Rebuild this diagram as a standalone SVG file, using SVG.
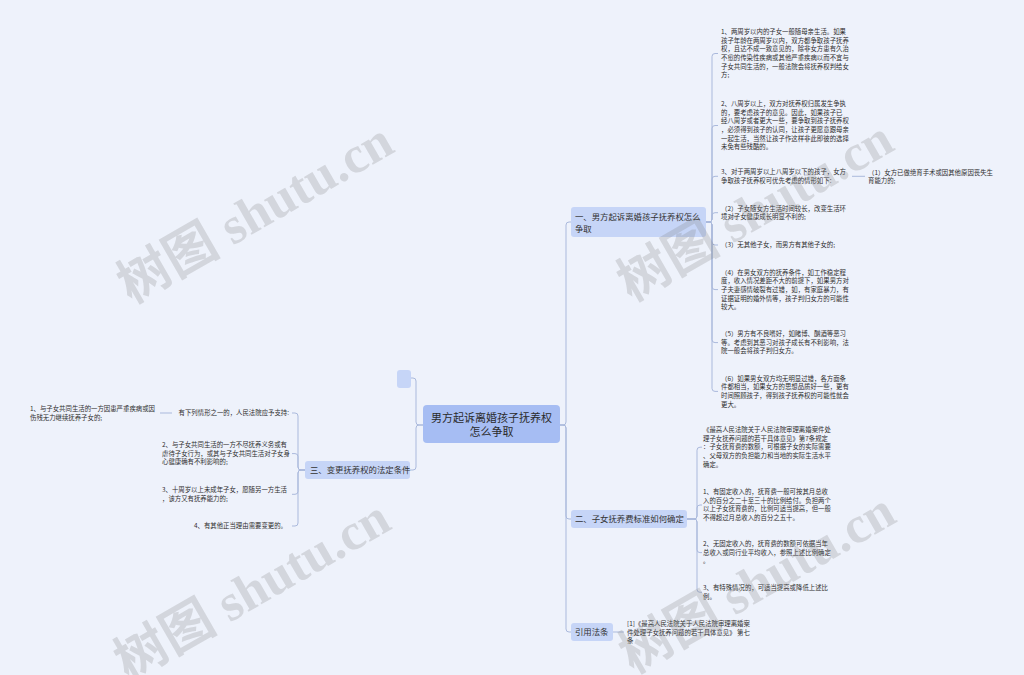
<svg xmlns="http://www.w3.org/2000/svg" width="1024" height="675" viewBox="0 0 1024 675">
<style>
.bg{fill:#eef2fb}
.root{fill:#a6bdf3}
.l1{fill:#c6d5f7}
.rt{font-family:"Noto Sans CJK SC","Liberation Sans",sans-serif;font-size:11px;fill:#2b2b2b}
.t1{font-family:"Noto Sans CJK SC","Liberation Sans",sans-serif;font-size:8.4px;fill:#333}
.lf{font-family:"Noto Sans CJK SC","Liberation Sans",sans-serif;font-size:6.4px;fill:#2e2e2e}
.cn{fill:none;stroke:#aab9dc;stroke-width:1}
.wm{font-family:"Liberation Serif","Noto Sans CJK SC",serif;font-size:52px;font-weight:bold;fill:#7f7f7f;fill-opacity:0.24}
</style>
<rect class="bg" x="0" y="0" width="1024" height="675"/>

<g id="connectors">
<path class="cn" d="M423,425 H419 Q416,425 416,422 V381 Q416,378 413,378 H410"/>
<path class="cn" d="M423,425 H419 Q416,425 416,428 V467 Q416,470 413,470 H410"/>
<path class="cn" d="M560,425 H563 Q566,425 566,422 V225 Q566,222 569,222 H571"/>
<path class="cn" d="M560,425 H563 Q566,425 566,428 V516 Q566,519 569,519 H571"/>
<path class="cn" d="M560,425 H563 Q566,425 566,428 V629 Q566,632 569,632 H571"/>
<path class="cn" d="M706,222 H709 Q712,222 712,219 V56.5 Q712,53.5 715,53.5 H718"/>
<path class="cn" d="M706,222 H709 Q712,222 712,219 V128.5 Q712,125.5 715,125.5 H718"/>
<path class="cn" d="M706,222 H709 Q712,222 712,219 V179.3 Q712,176.3 715,176.3 H718"/>
<path class="cn" d="M706,222 H709 Q712,222 712,219 V215.7 Q712,212.7 715,212.7 H718"/>
<path class="cn" d="M706,222 H709 Q712,222 712,225 V242 Q712,245 715,245 H718"/>
<path class="cn" d="M706,222 H709 Q712,222 712,225 V286.6 Q712,289.6 715,289.6 H718"/>
<path class="cn" d="M706,222 H709 Q712,222 712,225 V339.6 Q712,342.6 715,342.6 H718"/>
<path class="cn" d="M706,222 H709 Q712,222 712,225 V388.4 Q712,391.4 715,391.4 H718"/>
<path class="cn" d="M852,176.3 H865"/>
<path class="cn" d="M687,519 H694 Q697,519 697,516 V450.2 Q697,447.2 700,447.2 H702"/>
<path class="cn" d="M687,519 H694 Q697,519 697,516 V508 Q697,505 700,505 H702"/>
<path class="cn" d="M687,519 H694 Q697,519 697,522 V549.6 Q697,552.6 700,552.6 H702"/>
<path class="cn" d="M687,519 H694 Q697,519 697,522 V589.3 Q697,592.3 700,592.3 H702"/>
<path class="cn" d="M613,632 H624"/>
<path class="cn" d="M305,470 H301 Q298,470 298,467 V416 Q298,413 295,413 H292"/>
<path class="cn" d="M305,470 H301 Q298,470 298,467 V456.6 Q298,453.6 295,453.6 H292"/>
<path class="cn" d="M305,470 H301 Q298,470 298,473 V491.3 Q298,494.3 295,494.3 H292"/>
<path class="cn" d="M305,470 H301 Q298,470 298,473 V523 Q298,526 295,526 H292"/>
<path class="cn" d="M160,413 H172"/>
</g>

<g id="root">
<rect class="root" x="423" y="405" width="137" height="38" rx="4"/>
<text class="rt" x="491.5" y="422" text-anchor="middle">男方起诉离婚孩子抚养权</text>
<text class="rt" x="491.5" y="436" text-anchor="middle">怎么争取</text>
</g>

<g id="empty-node">
<rect class="l1" x="397" y="370" width="14" height="18" rx="3"/>
</g>

<g id="n1">
<rect class="l1" x="571" y="207" width="135" height="30" rx="3"/>
<text class="t1" x="575" y="220">一、男方起诉离婚孩子抚养权怎么</text>
<text class="t1" x="575" y="232">争取</text>
</g>

<g id="n2">
<rect class="l1" x="571" y="510" width="116" height="18" rx="3"/>
<text class="t1" x="575" y="522">二、子女抚养费标准如何确定</text>
</g>

<g id="n3">
<rect class="l1" x="305" y="461" width="105" height="18" rx="3"/>
<text class="t1" x="310" y="473">三、变更抚养权的法定条件</text>
</g>

<g id="n4">
<rect class="l1" x="571" y="623" width="42" height="18" rx="3"/>
<text class="t1" x="575" y="635">引用法条</text>
</g>

<g id="n1-leaves" class="lf">
<g id="n1-a">
<text x="721" y="34.2"> 1、两周岁以内的子女一般随母亲生活。如果</text>
<text x="721" y="42.8">孩子年龄在两周岁以内，双方都争取孩子抚养</text>
<text x="721" y="51.4">权，且达不成一致意见的，除非女方患有久治</text>
<text x="721" y="60">不愈的传染性疾病或其他严重疾病以而不宜与</text>
<text x="721" y="68.6">子女共同生活的，一般法院会将抚养权判给女</text>
<text x="721" y="77.2">方;</text>
</g>
<g id="n1-b">
<text x="721" y="106.2"> 2、八周岁以上，双方对抚养权归属发生争执</text>
<text x="721" y="114.8">的，要考虑孩子的意见。因此，如果孩子已</text>
<text x="721" y="123.4">经八周岁或者更大一些，要争取到孩子抚养权</text>
<text x="721" y="132">，必须得到孩子的认同，让孩子更愿意跟母亲</text>
<text x="721" y="140.6">一起生活，当然让孩子作这样非此即彼的选择</text>
<text x="721" y="149.2">未免有些残酷的。</text>
</g>
<g id="n1-c">
<text x="721" y="174.2"> 3、对于两周岁以上八周岁以下的孩子，女方</text>
<text x="721" y="182.8">争取孩子抚养权可优先考虑的情形如下:</text>
</g>
<g id="n1-c1">
<text x="868" y="174.7">（1）女方已做绝育手术或因其他原因丧失生</text>
<text x="868" y="183.3">育能力的;</text>
</g>
<g id="n1-d">
<text x="721" y="210.7">（2）子女随女方生活时间较长，改变生活环</text>
<text x="721" y="219.3">境对子女健康成长明显不利的;</text>
</g>
<g id="n1-e">
<text x="721" y="247.2">（3）无其他子女，而男方有其他子女的;</text>
</g>
<g id="n1-f">
<text x="721" y="274.7">（4）在男女双方的抚养条件，如工作稳定程</text>
<text x="721" y="283.3">度，收入情况差距不大的前提下，如果男方对</text>
<text x="721" y="291.9">子夫妻感情破裂有过错，如，有家庭暴力，有</text>
<text x="721" y="300.5">证据证明的婚外情等，孩子判归女方的可能性</text>
<text x="721" y="309.1">较大。</text>
</g>
<g id="n1-g">
<text x="721" y="336.2">（5）男方有不良嗜好，如赌博、酗酒等恶习</text>
<text x="721" y="344.8">等。考虑到其恶习对孩子成长有不利影响，法</text>
<text x="721" y="353.4">院一般会将孩子判归女方。</text>
</g>
<g id="n1-h">
<text x="721" y="380.7">（6）如果男女双方均无明显过错，各方面条</text>
<text x="721" y="389.3">件都相当，如果女方的思想品质好一些，更有</text>
<text x="721" y="397.9">时间照顾孩子，得到孩子抚养权的可能性就会</text>
<text x="721" y="406.5">更大。</text>
</g>
</g>

<g id="n2-leaves" class="lf">
<g id="n2-a">
<text x="703" y="432.2">《最高人民法院关于人民法院审理离婚案件处</text>
<text x="703" y="440.8">理子女抚养问题的若干具体意见》第7条规定</text>
<text x="703" y="449.4">：子女抚育费的数额，可根据子女的实际需要</text>
<text x="703" y="458">、父母双方的负担能力和当地的实际生活水平</text>
<text x="703" y="466.6">确定。</text>
</g>
<g id="n2-b">
<text x="703" y="494.2"> 1、有固定收入的，抚育费一般可按其月总收</text>
<text x="703" y="502.8">入的百分之二十至三十的比例给付。负担两个</text>
<text x="703" y="511.4">以上子女抚育费的，比例可适当提高，但一般</text>
<text x="703" y="520">不得超过月总收入的百分之五十。</text>
</g>
<g id="n2-c">
<text x="703" y="546.2"> 2、无固定收入的，抚育费的数额可依据当年</text>
<text x="703" y="554.8">总收入或同行业平均收入，参照上述比例确定</text>
<text x="703" y="563.4">。</text>
</g>
<g id="n2-d">
<text x="703" y="590.2"> 3、有特殊情况的，可适当提高或降低上述比</text>
<text x="703" y="598.8">例。</text>
</g>
</g>

<g id="ref-leaf" class="lf">
<text x="627" y="626.2">[1]《最高人民法院关于人民法院审理离婚案</text>
<text x="627" y="634.8">件处理子女抚养问题的若干具体意见》 第七</text>
<text x="627" y="643.4">条</text>
</g>

<g id="n3-leaves" class="lf">
<g id="n3-a">
<text x="289" y="415.2" text-anchor="end">有下列情形之一的，人民法院应予支持:</text>
</g>
<g id="n3-a1">
<text x="30" y="411.2"> 1、与子女共同生活的一方因患严重疾病或因</text>
<text x="30" y="419.8">伤残无力继续抚养子女的;</text>
</g>
<g id="n3-b">
<text x="162" y="447.2"> 2、与子女共同生活的一方不尽抚养义务或有</text>
<text x="162" y="455.8">虐待子女行为，或其与子女共同生活对子女身</text>
<text x="162" y="464.4">心健康确有不利影响的;</text>
</g>
<g id="n3-c">
<text x="162" y="492.2"> 3、十周岁以上未成年子女，愿随另一方生活</text>
<text x="162" y="500.8">，该方又有抚养能力的;</text>
</g>
<g id="n3-d">
<text x="287" y="528.2" text-anchor="end">4、有其他正当理由需要变更的。</text>
</g>
</g>

<g id="watermarks" class="wm">
<text transform="translate(255,212) rotate(-30)" x="0" y="18" text-anchor="middle">树图 shutu.cn</text>
<text transform="translate(755,210) rotate(-30)" x="0" y="18" text-anchor="middle">树图 shutu.cn</text>
<text transform="translate(252,589) rotate(-30)" x="0" y="18" text-anchor="middle">树图 shutu.cn</text>
<text transform="translate(757,582) rotate(-30)" x="0" y="18" text-anchor="middle">树图 shutu.cn</text>
</g>
</svg>
